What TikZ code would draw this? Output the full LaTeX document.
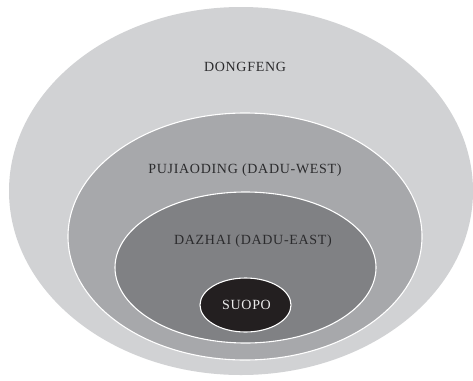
\documentclass[tikz,border=0pt]{standalone}
\usepackage{fontspec}
\setmainfont{Liberation Serif}[LetterSpace=5]
\definecolor{ring1}{HTML}{D1D2D4}
\definecolor{ring2}{HTML}{A7A8AB}
\definecolor{ring3}{HTML}{808184}
\definecolor{ring4}{HTML}{231F20}
\definecolor{txt}{HTML}{2B2B2D}
\tikzset{
  zone/.style={draw=white, line width=1.1pt},
  lbl/.style={font=\fontsize{14}{16}\selectfont, text=txt, inner sep=0pt}
}
\begin{document}
\begin{tikzpicture}[x=1pt,y=-1pt]
\path[use as bounding box, fill=white] (0,0) rectangle (473,380);
\begin{scope}
\clip (0,0) rectangle (473,380);
\fill[ring1] (241,191) ellipse [x radius=232, y radius=184];
\end{scope}
\draw[zone, fill=ring2] (245,236.5) ellipse [x radius=177, y radius=123.5];
\draw[zone, fill=ring3] (245.5,267.5) ellipse [x radius=130.5, y radius=75.5];
\draw[zone, fill=ring4] (245.5,305) ellipse [x radius=45.5, y radius=27];
\node[lbl] (dongfeng) at (245,67) {DONGFENG};
\node[lbl] (pujiaoding) at (245,170) {PUJIAODING (DADU-WEST)};
\node[lbl] (dazhai) at (253,241) {DAZHAI (DADU-EAST)};
\node[lbl, text=white!92!black] (suopo) at (246.5,305) {SUOPO};
\end{tikzpicture}
\end{document}
